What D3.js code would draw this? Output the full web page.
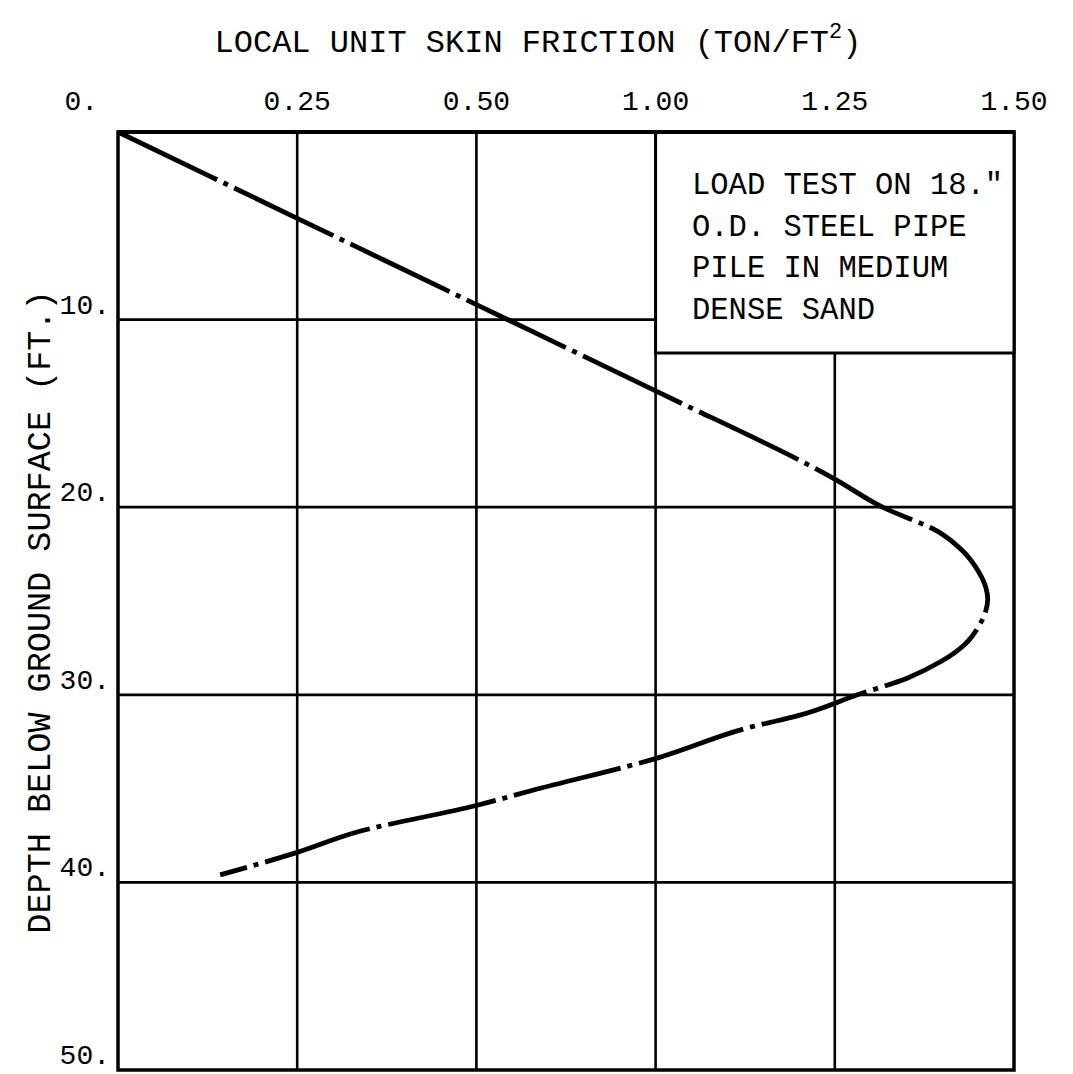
<!DOCTYPE html>
<html>
<head>
<meta charset="utf-8">
<script src="https://cdn.jsdelivr.net/npm/d3@7"></script>
<style>
  html, body { margin: 0; padding: 0; background: #fff; }
  svg { display: block; }
  text { font-family: "Liberation Mono", "DejaVu Sans Mono", monospace; fill: #000; }
</style>
</head>
<body>
<svg id="chart" width="1073" height="1074"></svg>
<script>
// ---- data ----
const xTickLabels = ["0.", "0.25", "0.50", "1.00", "1.25", "1.50"];
const yTickValues = [10, 20, 30, 40, 50];
const yTickLabels = ["10.", "20.", "30.", "40.", "50."];
const depth    = [0, 4.6, 9.2, 13.8, 18.5, 20.0, 21.3, 22.3, 23.4, 24.3, 24.9, 25.5, 26.4, 27.3, 28.2, 29.1, 30.0, 31.1, 31.7, 33.4, 35.1, 35.9, 37.3, 38.4, 39.6];
const friction = [0, 0.30, 0.60, 0.90, 1.20, 1.28, 1.373, 1.413, 1.44, 1.453, 1.456, 1.453, 1.44, 1.418, 1.379, 1.322, 1.238, 1.14, 1.062, 0.90, 0.693, 0.60, 0.402, 0.30, 0.171];
const titleText = "LOCAL UNIT SKIN FRICTION (TON/FT";
const yTitle = "DEPTH BELOW GROUND SURFACE (FT.)";
const legendLines = ["LOAD TEST ON 18.\"", "O.D. STEEL PIPE", "PILE IN MEDIUM", "DENSE SAND"];

// ---- layout ----
const pL = 118, pR = 1014, pT = 132, pB = 1070;
const svg = d3.select("#chart");
const x = d3.scaleLinear().domain([0, 1.5]).range([pL, pR]);
const y = d3.scaleLinear().domain([0, 50]).range([pT, pB]);
const xTickVals = xTickLabels.map((d, i) => i * 1.5 / (xTickLabels.length - 1));

// legend box bounds
const boxX0 = x(xTickVals[3]), boxX1 = pR, boxY0 = pT, boxY1 = 353;

const g = svg.append("g");
// vertical grid lines
xTickVals.slice(1, -1).forEach(v => {
  const xi = x(v);
  const y0 = (xi >= boxX0 + 1) ? boxY1 : pT;
  g.append("line").attr("x1", xi).attr("x2", xi).attr("y1", y0).attr("y2", pB)
    .attr("stroke", "#000").attr("stroke-width", 2.6);
});
// horizontal grid lines
yTickValues.slice(0, -1).forEach(v => {
  const yi = y(v);
  const x1 = (yi < boxY1) ? boxX0 : pR;
  g.append("line").attr("x1", pL).attr("x2", x1).attr("y1", yi).attr("y2", yi)
    .attr("stroke", "#000").attr("stroke-width", 2.8);
});
// frame
g.append("rect").attr("x", pL).attr("y", pT).attr("width", pR - pL).attr("height", pB - pT)
  .attr("fill", "none").attr("stroke", "#000").attr("stroke-width", 3.5);

// legend box
g.append("rect").attr("x", boxX0).attr("y", boxY0).attr("width", boxX1 - boxX0).attr("height", boxY1 - boxY0)
  .attr("fill", "#fff").attr("stroke", "#000").attr("stroke-width", 3);
g.append("line").attr("x1", pL).attr("x2", pR).attr("y1", pT).attr("y2", pT)
  .attr("stroke", "#000").attr("stroke-width", 4);
legendLines.forEach((t, i) => {
  svg.append("text").attr("x", 692).attr("y", 194 + i * 41.5)
    .attr("font-size", 30.5).text(t);
});

// x tick labels (top)
xTickLabels.forEach((t, i) => {
  const tx = svg.append("text").attr("x", x(xTickVals[i])).attr("y", 110)
    .attr("font-size", 28).attr("text-anchor", i === 0 ? "end" : "middle").text(t);
  if (i === 0) tx.attr("dx", -20);
});
// y tick labels
yTickValues.forEach((v, i) => {
  svg.append("text").attr("x", 110).attr("y", y(v) - 6)
    .attr("font-size", 28).attr("text-anchor", "end").text(yTickLabels[i]);
});

// title
const tt = svg.append("text").attr("x", 538).attr("y", 52).attr("font-size", 32).attr("text-anchor", "middle");
tt.append("tspan").text(titleText);
tt.append("tspan").attr("font-size", 22).attr("dy", -14).text("2");
tt.append("tspan").attr("dy", 14).text(")");

// y title
svg.append("text").attr("transform", `translate(50, 612) rotate(-90)`)
  .attr("font-size", 33.5).attr("text-anchor", "middle").text(yTitle);

// curve
const pts = depth.map((d, i) => ({ d, f: friction[i] }));
const line = d3.line().x(p => x(p.f)).y(p => y(p.d)).curve(d3.curveMonotoneY);
svg.append("path").attr("d", line(pts)).attr("fill", "none").attr("stroke", "#000")
  .attr("stroke-width", 4.8).attr("stroke-dasharray", "110,7,5,7");
</script>
</body>
</html>
